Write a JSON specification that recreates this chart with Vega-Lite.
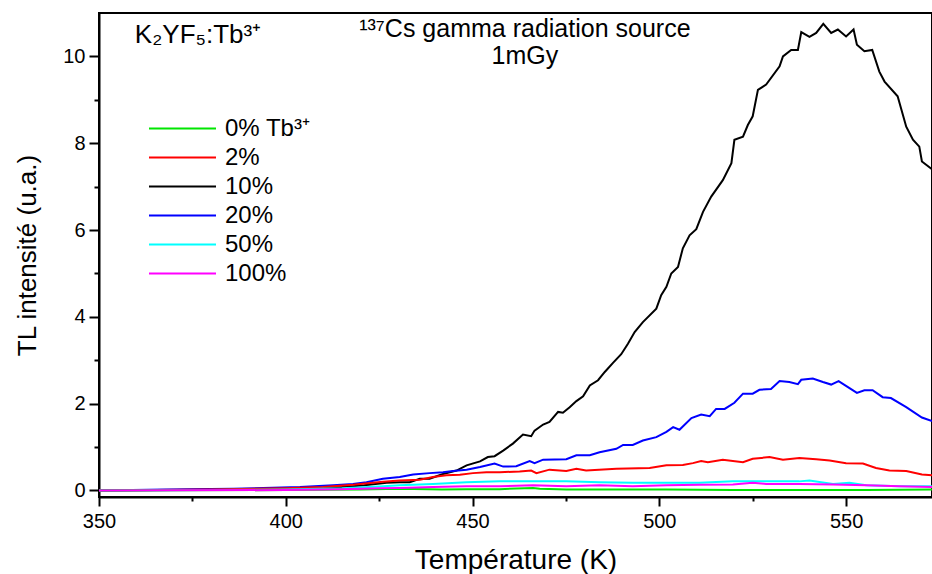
{
  "$schema": "https://vega.github.io/schema/vega-lite/v6.json",
  "width": 833,
  "height": 484,
  "autosize": {"type": "none"},
  "padding": {"left": 99, "top": 13, "right": 0, "bottom": 77},
  "background": "white",
  "config": {
    "view": {"stroke": "black", "strokeWidth": 2},
    "font": "Liberation Sans",
    "axis": {
      "domainColor": "black", "domainWidth": 2, "tickColor": "black", "tickWidth": 2,
      "labelColor": "black", "labelFont": "Liberation Sans", "labelFontSize": 20,
      "titleColor": "black", "titleFont": "Liberation Sans", "titleFontWeight": "normal",
      "grid": false
    }
  },
  "layer": [
    {
      "data": {"values": [
        {"s":"10%","T":350,"I":0},{"s":"10%","T":360,"I":0.005},{"s":"10%","T":370,"I":0.01},{"s":"10%","T":380,"I":0.015},{"s":"10%","T":390,"I":0.02},{"s":"10%","T":400,"I":0.03},{"s":"10%","T":405,"I":0.04},{"s":"10%","T":410,"I":0.06},{"s":"10%","T":415,"I":0.08},{"s":"10%","T":418,"I":0.1},{"s":"10%","T":421,"I":0.12},{"s":"10%","T":424,"I":0.15},{"s":"10%","T":427,"I":0.18},{"s":"10%","T":430.5,"I":0.19},{"s":"10%","T":433.2,"I":0.19},{"s":"10%","T":435.9,"I":0.27},{"s":"10%","T":438.5,"I":0.27},{"s":"10%","T":442.1,"I":0.38},{"s":"10%","T":445.7,"I":0.46},{"s":"10%","T":448.4,"I":0.58},{"s":"10%","T":452,"I":0.67},{"s":"10%","T":454.1,"I":0.77},{"s":"10%","T":455.9,"I":0.79},{"s":"10%","T":458.2,"I":0.92},{"s":"10%","T":460.8,"I":1.08},{"s":"10%","T":463.5,"I":1.29},{"s":"10%","T":465.7,"I":1.25},{"s":"10%","T":466.6,"I":1.38},{"s":"10%","T":468.9,"I":1.52},{"s":"10%","T":470.6,"I":1.58},{"s":"10%","T":472.9,"I":1.81},{"s":"10%","T":474.2,"I":1.79},{"s":"10%","T":476,"I":1.92},{"s":"10%","T":477.8,"I":2.06},{"s":"10%","T":479.6,"I":2.17},{"s":"10%","T":481.4,"I":2.42},{"s":"10%","T":483.6,"I":2.54},{"s":"10%","T":485.4,"I":2.73},{"s":"10%","T":487.6,"I":2.94},{"s":"10%","T":489.8,"I":3.14},{"s":"10%","T":491.6,"I":3.38},{"s":"10%","T":493.4,"I":3.65},{"s":"10%","T":495.6,"I":3.88},{"s":"10%","T":499.2,"I":4.19},{"s":"10%","T":500.5,"I":4.5},{"s":"10%","T":501.9,"I":4.69},{"s":"10%","T":503.2,"I":5.0},{"s":"10%","T":505,"I":5.15},{"s":"10%","T":506.3,"I":5.58},{"s":"10%","T":508.1,"I":5.88},{"s":"10%","T":509.9,"I":6.02},{"s":"10%","T":511.7,"I":6.42},{"s":"10%","T":513.9,"I":6.77},{"s":"10%","T":517,"I":7.15},{"s":"10%","T":519.3,"I":7.54},{"s":"10%","T":520.1,"I":8.08},{"s":"10%","T":522.4,"I":8.15},{"s":"10%","T":523.7,"I":8.42},{"s":"10%","T":525,"I":8.62},{"s":"10%","T":526.4,"I":9.23},{"s":"10%","T":528.6,"I":9.35},{"s":"10%","T":532.2,"I":9.77},{"s":"10%","T":533.1,"I":10.0},{"s":"10%","T":535.3,"I":10.15},{"s":"10%","T":537.1,"I":10.15},{"s":"10%","T":538,"I":10.56},{"s":"10%","T":540.2,"I":10.45},{"s":"10%","T":542,"I":10.54},{"s":"10%","T":543.9,"I":10.75},{"s":"10%","T":546,"I":10.54},{"s":"10%","T":547.8,"I":10.62},{"s":"10%","T":550,"I":10.46},{"s":"10%","T":552,"I":10.62},{"s":"10%","T":552.9,"I":10.27},{"s":"10%","T":554.9,"I":10.12},{"s":"10%","T":557,"I":10.15},{"s":"10%","T":558.9,"I":9.65},{"s":"10%","T":560.3,"I":9.42},{"s":"10%","T":563.8,"I":9.08},{"s":"10%","T":566.1,"I":8.38},{"s":"10%","T":567.9,"I":8.08},{"s":"10%","T":569.6,"I":7.92},{"s":"10%","T":570.3,"I":7.58},{"s":"10%","T":573,"I":7.4},

        {"s":"20%","T":350,"I":0},{"s":"20%","T":368,"I":0.02},{"s":"20%","T":386,"I":0.04},{"s":"20%","T":403.8,"I":0.08},{"s":"20%","T":412.7,"I":0.12},{"s":"20%","T":418,"I":0.15},{"s":"20%","T":421.6,"I":0.19},{"s":"20%","T":426,"I":0.27},{"s":"20%","T":430.5,"I":0.31},{"s":"20%","T":434.1,"I":0.37},{"s":"20%","T":438.5,"I":0.4},{"s":"20%","T":442.1,"I":0.42},{"s":"20%","T":444.8,"I":0.45},{"s":"20%","T":448.4,"I":0.48},{"s":"20%","T":452,"I":0.54},{"s":"20%","T":455.9,"I":0.62},{"s":"20%","T":458.2,"I":0.55},{"s":"20%","T":461.7,"I":0.56},{"s":"20%","T":465.3,"I":0.68},{"s":"20%","T":466.6,"I":0.63},{"s":"20%","T":468.9,"I":0.71},{"s":"20%","T":475.1,"I":0.72},{"s":"20%","T":477.8,"I":0.81},{"s":"20%","T":481.4,"I":0.81},{"s":"20%","T":484,"I":0.88},{"s":"20%","T":488.5,"I":0.96},{"s":"20%","T":490.3,"I":1.05},{"s":"20%","T":492.9,"I":1.05},{"s":"20%","T":495.6,"I":1.15},{"s":"20%","T":499.2,"I":1.23},{"s":"20%","T":501.9,"I":1.35},{"s":"20%","T":503.7,"I":1.46},{"s":"20%","T":505.4,"I":1.4},{"s":"20%","T":508.6,"I":1.67},{"s":"20%","T":511.2,"I":1.75},{"s":"20%","T":513.5,"I":1.71},{"s":"20%","T":515.2,"I":1.88},{"s":"20%","T":517.5,"I":1.88},{"s":"20%","T":520.1,"I":2.02},{"s":"20%","T":522.4,"I":2.23},{"s":"20%","T":525,"I":2.23},{"s":"20%","T":526.8,"I":2.32},{"s":"20%","T":529.9,"I":2.34},{"s":"20%","T":532.2,"I":2.52},{"s":"20%","T":534.8,"I":2.5},{"s":"20%","T":537.1,"I":2.45},{"s":"20%","T":538,"I":2.55},{"s":"20%","T":541.1,"I":2.58},{"s":"20%","T":543.8,"I":2.5},{"s":"20%","T":546,"I":2.44},{"s":"20%","T":548,"I":2.52},{"s":"20%","T":550.5,"I":2.38},{"s":"20%","T":552.9,"I":2.25},{"s":"20%","T":554.9,"I":2.31},{"s":"20%","T":557.1,"I":2.31},{"s":"20%","T":559.8,"I":2.15},{"s":"20%","T":562,"I":2.13},{"s":"20%","T":566.1,"I":1.92},{"s":"20%","T":570.3,"I":1.68},{"s":"20%","T":573,"I":1.6},

        {"s":"2%","T":350,"I":0},{"s":"2%","T":380,"I":0.02},{"s":"2%","T":400,"I":0.05},{"s":"2%","T":410,"I":0.08},{"s":"2%","T":418,"I":0.13},{"s":"2%","T":426,"I":0.2},{"s":"2%","T":430.5,"I":0.23},{"s":"2%","T":435.9,"I":0.25},{"s":"2%","T":439.4,"I":0.31},{"s":"2%","T":443,"I":0.35},{"s":"2%","T":446.6,"I":0.36},{"s":"2%","T":450.1,"I":0.4},{"s":"2%","T":453.7,"I":0.42},{"s":"2%","T":457.3,"I":0.42},{"s":"2%","T":462.6,"I":0.44},{"s":"2%","T":465.7,"I":0.46},{"s":"2%","T":467.1,"I":0.4},{"s":"2%","T":470.6,"I":0.48},{"s":"2%","T":475.1,"I":0.45},{"s":"2%","T":477.8,"I":0.5},{"s":"2%","T":480.4,"I":0.46},{"s":"2%","T":488.5,"I":0.5},{"s":"2%","T":497.4,"I":0.52},{"s":"2%","T":501.9,"I":0.58},{"s":"2%","T":506.3,"I":0.59},{"s":"2%","T":509,"I":0.63},{"s":"2%","T":511.2,"I":0.68},{"s":"2%","T":513,"I":0.65},{"s":"2%","T":517,"I":0.71},{"s":"2%","T":522.4,"I":0.65},{"s":"2%","T":525,"I":0.73},{"s":"2%","T":529.5,"I":0.77},{"s":"2%","T":533.1,"I":0.71},{"s":"2%","T":537.5,"I":0.75},{"s":"2%","T":542,"I":0.72},{"s":"2%","T":545.6,"I":0.69},{"s":"2%","T":550,"I":0.63},{"s":"2%","T":554.5,"I":0.62},{"s":"2%","T":558,"I":0.52},{"s":"2%","T":561.6,"I":0.46},{"s":"2%","T":566.1,"I":0.45},{"s":"2%","T":570.3,"I":0.37},{"s":"2%","T":573,"I":0.35},

        {"s":"50%","T":350,"I":0},{"s":"50%","T":400,"I":0.02},{"s":"50%","T":415,"I":0.05},{"s":"50%","T":425,"I":0.09},{"s":"50%","T":430.5,"I":0.12},{"s":"50%","T":439.4,"I":0.15},{"s":"50%","T":448.4,"I":0.19},{"s":"50%","T":457.3,"I":0.21},{"s":"50%","T":466.2,"I":0.21},{"s":"50%","T":475.1,"I":0.21},{"s":"50%","T":484,"I":0.19},{"s":"50%","T":492.9,"I":0.18},{"s":"50%","T":501.9,"I":0.18},{"s":"50%","T":510.8,"I":0.18},{"s":"50%","T":519.7,"I":0.21},{"s":"50%","T":528.6,"I":0.21},{"s":"50%","T":537.5,"I":0.21},{"s":"50%","T":540.2,"I":0.23},{"s":"50%","T":546.5,"I":0.15},{"s":"50%","T":550.9,"I":0.18},{"s":"50%","T":555.4,"I":0.12},{"s":"50%","T":564.3,"I":0.1},{"s":"50%","T":573,"I":0.1},

        {"s":"0% Tb³⁺","T":350,"I":0},{"s":"0% Tb³⁺","T":400,"I":0.01},{"s":"0% Tb³⁺","T":420,"I":0.02},{"s":"0% Tb³⁺","T":430.5,"I":0.04},{"s":"0% Tb³⁺","T":441.8,"I":0.02},{"s":"0% Tb³⁺","T":448.4,"I":0.03},{"s":"0% Tb³⁺","T":457.3,"I":0.03},{"s":"0% Tb³⁺","T":466.2,"I":0.06},{"s":"0% Tb³⁺","T":468,"I":0.04},{"s":"0% Tb³⁺","T":475.1,"I":0.02},{"s":"0% Tb³⁺","T":484,"I":0.02},{"s":"0% Tb³⁺","T":501.9,"I":0.02},{"s":"0% Tb³⁺","T":519.7,"I":0.01},{"s":"0% Tb³⁺","T":537.5,"I":0.01},{"s":"0% Tb³⁺","T":555.4,"I":0.01},{"s":"0% Tb³⁺","T":573,"I":0.02},

        {"s":"100%","T":350,"I":0},{"s":"100%","T":400,"I":0.01},{"s":"100%","T":415,"I":0.03},{"s":"100%","T":425,"I":0.05},{"s":"100%","T":430.5,"I":0.06},{"s":"100%","T":439.4,"I":0.08},{"s":"100%","T":448.4,"I":0.1},{"s":"100%","T":457.3,"I":0.1},{"s":"100%","T":466.2,"I":0.12},{"s":"100%","T":475.1,"I":0.1},{"s":"100%","T":484,"I":0.12},{"s":"100%","T":492.9,"I":0.1},{"s":"100%","T":501.9,"I":0.12},{"s":"100%","T":510.8,"I":0.13},{"s":"100%","T":519.7,"I":0.14},{"s":"100%","T":525,"I":0.18},{"s":"100%","T":528.6,"I":0.15},{"s":"100%","T":537.5,"I":0.15},{"s":"100%","T":546.5,"I":0.14},{"s":"100%","T":555.4,"I":0.12},{"s":"100%","T":564.3,"I":0.1},{"s":"100%","T":573,"I":0.08}
      ]},
      "mark": {"type": "line", "strokeWidth": 2, "clip": true},
      "encoding": {
        "x": {"field": "T", "type": "quantitative", "scale": {"domain": [350, 573], "nice": false, "zero": false},
          "axis": {"title": "Température (K)", "titleFontSize": 28, "labelFontSize": 20, "values": [350,375,400,425,450,475,500,525,550],
            "labelExpr": "datum.value % 50 === 0 ? datum.label : ''",
            "tickSize": {"condition": {"test": "datum.value % 50 !== 0", "value": 4}, "value": 9},
            "labelPadding": 5, "titlePadding": 15, "labelFlush": false,
            "encoding": {"labels": {"update": {"fontSize": {"value": 20}}}}}},
        "y": {"field": "I", "type": "quantitative", "scale": {"domain": [-0.15, 11], "nice": false, "zero": false},
          "axis": {"title": "TL intensité (u.a.)", "titleFontSize": 26, "labelFontSize": 20, "values": [0,1,2,3,4,5,6,7,8,9,10],
            "labelExpr": "datum.value % 2 === 0 ? datum.label : ''",
            "tickSize": {"condition": {"test": "datum.value % 2 !== 0", "value": 5}, "value": 10},
            "labelPadding": 4, "titlePadding": 22,
            "encoding": {"labels": {"update": {"fontSize": {"value": 20}}}}}},
        "color": {"field": "s", "type": "nominal",
          "scale": {"domain": ["0% Tb³⁺","2%","10%","20%","50%","100%"], "range": ["#00e600","#ff0000","#000000","#0000ff","#00ffff","#ff00ff"]},
          "legend": {"title": null, "orient": "none", "legendX": 49, "legendY": 101, "symbolType": "stroke", "symbolSize": 4489, "symbolStrokeWidth": 2, "labelFontSize": 24, "labelFont": "Liberation Sans", "labelColor": "black", "rowPadding": 0, "clipHeight": 29, "labelOffset": 8}},
        "order": {"field": "s", "sort": "ascending"}
      }
    },
    {
      "data": {"values": [{"t": "K₂YF₅:Tb³⁺", "x": 359.6, "y": 10.5}]},
      "mark": {"type": "text", "font": "Liberation Sans", "color": "black", "baseline": "middle", "align": "left", "fontSize": 26},
      "encoding": {"x": {"field": "x", "type": "quantitative"}, "y": {"field": "y", "type": "quantitative"}, "text": {"field": "t"}}
    },
    {
      "data": {"values": [{"t": "¹³⁷Cs gamma radiation source", "x": 464, "y": 10.62}, {"t": "1mGy", "x": 464, "y": 10.0}]},
      "mark": {"type": "text", "font": "Liberation Sans", "color": "black", "baseline": "middle", "align": "center", "fontSize": 25},
      "encoding": {"x": {"field": "x", "type": "quantitative"}, "y": {"field": "y", "type": "quantitative"}, "text": {"field": "t"}}
    }
  ]
}
